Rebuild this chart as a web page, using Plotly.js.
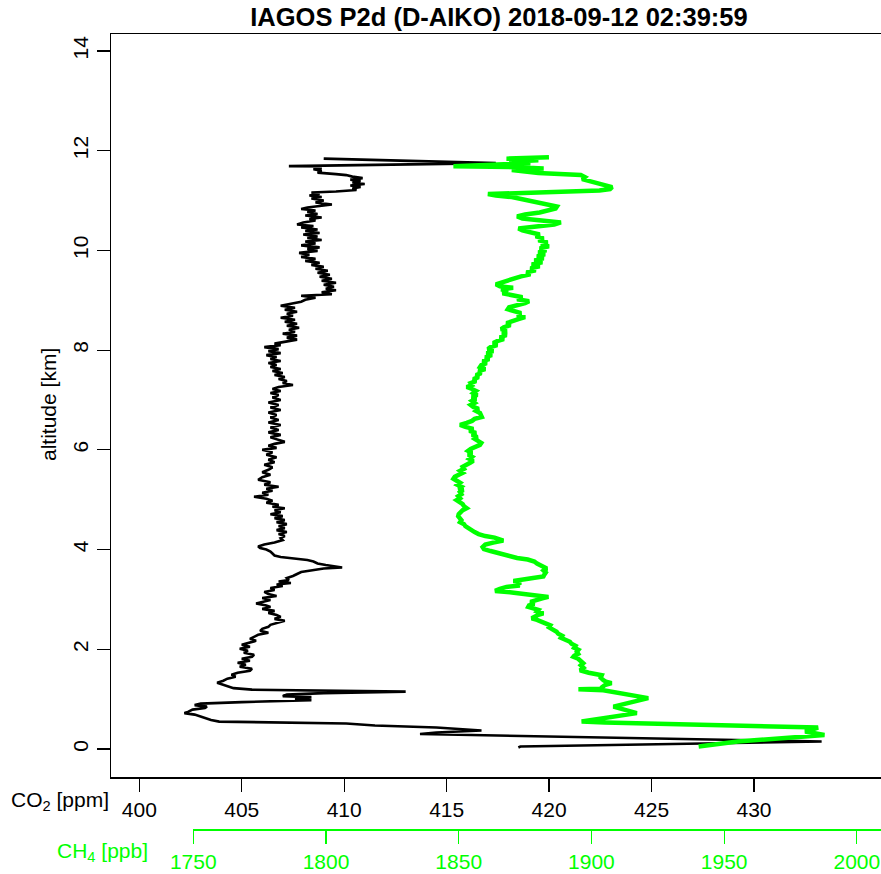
<!DOCTYPE html>
<html>
<head>
<meta charset="utf-8">
<script src="https://cdn.plot.ly/plotly-3.0.1.min.js"></script>
<style>html,body{margin:0;padding:0;background:#fff;overflow:hidden}#chart{width:881px;height:874px}</style>
</head>
<body>
<div id="chart"></div>
<script>
// ---- data ----
const titleText = "IAGOS P2d (D-AIKO) 2018-09-12 02:39:59";
const co2Ticks = [400, 405, 410, 415, 420, 425, 430];
const ch4Ticks = [1750, 1800, 1850, 1900, 1950, 2000];
const altTicks = [0, 2, 4, 6, 8, 10, 12, 14];

const co2Alt = [11.84,11.83,11.75,11.69,11.68,11.66,11.63,11.60,11.56,11.53,11.51,11.48,11.45,11.42,11.39,11.36,11.33,11.30,11.27,11.24,11.21,11.18,11.16,11.13,11.10,11.07,11.04,11.00,10.96,10.92,10.89,10.86,10.83,10.80,10.77,10.73,10.70,10.66,10.63,10.60,10.56,10.52,10.49,10.46,10.42,10.39,10.35,10.32,10.28,10.25,10.21,10.18,10.14,10.10,10.06,10.03,9.99,9.95,9.91,9.87,9.83,9.79,9.75,9.71,9.67,9.63,9.59,9.55,9.51,9.47,9.43,9.39,9.35,9.31,9.27,9.23,9.20,9.16,9.12,9.09,9.05,9.01,8.97,8.93,8.89,8.85,8.81,8.77,8.73,8.69,8.65,8.61,8.57,8.53,8.49,8.45,8.41,8.37,8.33,8.29,8.25,8.21,8.17,8.13,8.10,8.06,8.02,7.98,7.94,7.90,7.86,7.82,7.78,7.74,7.70,7.66,7.62,7.58,7.54,7.50,7.46,7.42,7.38,7.34,7.30,7.26,7.22,7.18,7.14,7.10,7.05,7.00,6.95,6.90,6.85,6.80,6.75,6.70,6.65,6.60,6.55,6.50,6.45,6.40,6.35,6.30,6.25,6.20,6.16,6.12,6.08,6.04,6.00,5.95,5.90,5.85,5.80,5.75,5.70,5.65,5.60,5.55,5.50,5.45,5.40,5.35,5.30,5.26,5.22,5.18,5.14,5.10,5.06,5.02,4.98,4.94,4.90,4.86,4.83,4.79,4.75,4.71,4.67,4.63,4.59,4.55,4.51,4.47,4.43,4.39,4.35,4.31,4.27,4.23,4.19,4.14,4.10,4.06,4.03,4.00,3.96,3.92,3.88,3.85,3.82,3.79,3.76,3.72,3.69,3.66,3.64,3.62,3.58,3.55,3.51,3.47,3.43,3.39,3.36,3.33,3.30,3.27,3.23,3.19,3.15,3.11,3.07,3.03,2.99,2.95,2.92,2.88,2.85,2.81,2.77,2.73,2.69,2.65,2.61,2.57,2.53,2.49,2.45,2.41,2.37,2.33,2.29,2.25,2.21,2.17,2.13,2.09,2.05,2.01,1.97,1.93,1.89,1.85,1.81,1.77,1.73,1.69,1.65,1.61,1.57,1.53,1.49,1.45,1.41,1.37,1.33,1.29,1.25,1.22,1.19,1.15,1.12,1.09,1.06,1.04,1.01,0.98,0.94,0.91,0.88,0.85,0.82,0.79,0.75,0.72,0.69,0.65,0.61,0.58,0.55,0.51,0.47,0.43,0.37,0.33,0.30,0.15,0.05,0.03];
const co2Ppm = [409.0,410.1,417.4,407.3,408.6,408.9,408.5,408.9,408.7,409.6,410.1,410.4,410.9,410.3,410.8,410.4,411.0,410.3,410.8,410.4,410.6,409.6,408.4,408.8,408.3,408.9,408.4,409.0,408.6,409.4,408.7,408.2,407.9,408.6,408.2,408.7,408.1,408.9,408.3,408.6,408.0,407.7,408.5,407.9,408.7,408.1,408.8,408.0,408.7,408.2,408.9,408.1,408.6,407.9,408.8,408.2,408.7,407.8,408.3,407.9,408.6,408.1,408.8,408.4,409.0,408.6,409.2,408.7,409.3,408.8,409.4,408.9,409.6,409.0,409.5,409.1,409.6,408.9,409.4,407.9,408.6,408.1,407.9,407.3,406.9,407.6,407.1,407.7,407.2,407.5,406.9,407.6,407.1,407.7,407.2,407.8,407.3,407.6,407.0,407.7,407.2,407.7,407.2,406.6,406.9,406.1,406.8,406.3,406.9,406.2,406.7,406.4,406.9,406.3,406.7,406.4,406.9,406.5,407.0,406.6,407.1,406.8,407.2,407.0,407.5,406.8,406.5,406.9,406.4,406.8,406.5,406.9,406.3,406.8,406.4,406.9,406.3,406.7,406.4,406.8,406.3,406.9,406.4,406.8,406.3,406.9,406.4,406.8,407.1,406.6,406.3,406.7,406.0,406.5,406.2,406.7,406.3,406.6,406.1,406.5,406.3,406.0,406.4,406.0,405.8,406.4,406.1,406.8,406.2,406.5,406.0,406.3,405.6,406.2,406.5,406.2,406.8,406.5,407.1,406.6,406.9,406.4,407.0,406.6,407.1,406.7,407.2,406.8,407.1,406.7,407.2,406.8,407.1,406.9,407.0,406.6,406.1,405.8,405.9,406.2,406.4,406.5,406.6,406.9,407.6,408.2,408.5,408.7,409.1,409.6,409.9,409.0,408.3,407.9,407.7,407.5,407.2,407.3,406.8,407.4,406.7,407.0,406.4,406.6,406.1,406.3,406.7,406.0,406.4,405.9,405.7,406.2,406.4,406.0,406.6,406.3,406.7,406.9,406.6,407.1,406.8,406.4,406.3,406.0,405.9,406.3,405.8,405.6,405.4,405.7,405.3,405.0,405.4,404.9,405.3,405.1,405.6,405.5,405.0,405.4,404.8,405.2,404.9,405.5,405.4,404.8,404.5,404.7,404.3,404.1,403.8,404.1,404.3,404.6,405.5,413.0,409.0,407.2,407.0,408.4,407.6,408.4,405.0,403.0,402.7,403.3,403.2,402.6,402.4,402.2,402.7,403.0,403.3,403.5,403.9,410.1,411.5,414.5,416.7,414.5,413.7,433.3,418.6,418.5];

const ch4Alt = [11.87,11.84,11.81,11.78,11.75,11.72,11.69,11.67,11.64,11.61,11.58,11.55,11.51,11.47,11.43,11.39,11.35,11.31,11.27,11.23,11.20,11.13,11.10,11.07,11.03,11.00,10.96,10.92,10.88,10.84,10.80,10.76,10.72,10.68,10.64,10.60,10.56,10.52,10.48,10.44,10.40,10.36,10.32,10.28,10.24,10.20,10.16,10.12,10.08,10.04,10.00,9.96,9.92,9.88,9.84,9.80,9.76,9.72,9.68,9.64,9.60,9.56,9.52,9.48,9.44,9.40,9.36,9.32,9.28,9.25,9.22,9.18,9.14,9.10,9.06,9.02,8.98,8.94,8.90,8.86,8.82,8.78,8.74,8.70,8.66,8.62,8.58,8.54,8.50,8.46,8.42,8.38,8.34,8.30,8.26,8.22,8.18,8.14,8.10,8.06,8.02,7.98,7.94,7.90,7.86,7.82,7.78,7.74,7.70,7.66,7.62,7.58,7.54,7.50,7.46,7.42,7.38,7.34,7.30,7.26,7.22,7.18,7.14,7.10,7.06,7.02,6.98,6.94,6.90,6.86,6.82,6.78,6.74,6.70,6.66,6.62,6.58,6.54,6.50,6.46,6.42,6.38,6.34,6.30,6.26,6.22,6.18,6.14,6.10,6.06,6.02,5.98,5.94,5.90,5.86,5.82,5.78,5.74,5.70,5.66,5.62,5.58,5.54,5.50,5.46,5.42,5.38,5.34,5.30,5.26,5.22,5.19,5.15,5.11,5.07,5.03,4.99,4.95,4.91,4.87,4.83,4.79,4.75,4.71,4.67,4.63,4.59,4.55,4.51,4.47,4.43,4.39,4.35,4.31,4.27,4.24,4.20,4.18,4.14,4.10,4.05,4.01,3.97,3.93,3.89,3.86,3.83,3.80,3.76,3.72,3.68,3.65,3.62,3.58,3.54,3.50,3.46,3.43,3.40,3.37,3.34,3.31,3.28,3.25,3.21,3.17,3.14,3.10,3.07,3.05,3.02,2.98,2.95,2.91,2.88,2.85,2.82,2.79,2.76,2.72,2.69,2.66,2.62,2.59,2.56,2.52,2.48,2.44,2.40,2.35,2.31,2.27,2.23,2.19,2.15,2.11,2.07,2.03,1.99,1.95,1.91,1.87,1.85,1.81,1.77,1.72,1.68,1.63,1.58,1.53,1.48,1.43,1.38,1.35,1.32,1.28,1.24,1.21,1.20,1.18,1.02,0.85,0.72,0.55,0.53,0.43,0.38,0.35,0.28,0.15,0.05];
const ch4Ppb = [1884.0,1868.0,1880.0,1869.0,1877.0,1866.0,1848.0,1872.0,1882.0,1870.0,1876.0,1880.0,1896.0,1897.5,1896.5,1899.5,1903.0,1906.5,1907.8,1907.0,1903.0,1861.0,1864.0,1870.0,1874.0,1876.0,1881.0,1884.0,1887.0,1886.5,1883.0,1880.5,1875.0,1872.0,1874.0,1882.0,1888.5,1886.0,1877.0,1872.5,1874.0,1878.0,1880.5,1879.0,1882.0,1880.0,1883.5,1881.0,1884.0,1880.5,1883.0,1880.0,1882.5,1879.5,1882.0,1878.5,1881.5,1877.5,1880.5,1877.0,1879.0,1875.5,1877.0,1873.5,1871.0,1868.0,1866.0,1864.0,1865.5,1870.5,1866.0,1868.5,1866.5,1871.0,1874.0,1872.0,1876.5,1875.0,1871.5,1869.0,1868.5,1871.0,1873.5,1872.0,1875.0,1872.5,1870.5,1868.0,1869.5,1867.0,1866.0,1868.0,1866.5,1868.0,1865.5,1867.0,1864.5,1863.0,1864.5,1862.0,1861.0,1863.0,1860.5,1862.5,1860.0,1861.5,1859.0,1860.5,1858.5,1858.0,1860.0,1857.5,1858.5,1856.5,1857.5,1855.5,1856.5,1854.5,1855.0,1853.0,1855.0,1856.5,1855.5,1857.0,1855.0,1856.5,1855.0,1856.0,1854.5,1855.5,1857.5,1856.5,1858.0,1858.5,1858.7,1856.0,1855.0,1853.0,1850.5,1852.5,1855.5,1854.0,1856.5,1855.0,1857.0,1856.0,1857.5,1858.5,1858.0,1856.0,1854.5,1853.5,1855.0,1853.6,1855.0,1854.0,1855.5,1854.3,1853.0,1851.5,1852.0,1850.5,1851.5,1849.5,1848.5,1848.0,1849.5,1850.5,1849.5,1851.0,1850.0,1851.7,1850.5,1851.0,1849.8,1850.5,1849.2,1850.5,1851.5,1852.0,1853.0,1851.5,1850.5,1850.0,1849.8,1850.5,1851.0,1850.5,1852.0,1852.5,1853.5,1854.5,1856.0,1857.5,1860.0,1863.5,1866.0,1866.8,1863.0,1860.0,1859.0,1859.5,1862.0,1865.0,1867.5,1868.5,1872.0,1876.0,1878.5,1879.5,1881.0,1882.5,1883.2,1882.0,1882.8,1882.3,1881.9,1878.0,1873.0,1870.6,1873.5,1871.5,1873.0,1868.0,1865.5,1863.7,1870.0,1878.0,1883.0,1883.8,1881.5,1878.5,1877.0,1878.5,1876.5,1876.2,1878.0,1880.0,1879.5,1881.9,1880.0,1878.5,1877.5,1879.5,1881.0,1883.2,1884.5,1884.0,1885.5,1886.9,1887.5,1889.0,1888.5,1890.5,1891.9,1892.5,1894.0,1893.5,1895.1,1894.5,1895.0,1893.5,1893.2,1895.0,1896.0,1896.9,1896.0,1897.0,1895.7,1899.0,1903.9,1903.5,1904.5,1905.5,1907.6,1905.0,1904.0,1903.5,1895.1,1904.5,1921.4,1908.3,1917.1,1896.3,1905.0,1985.4,1982.5,1980.5,1987.8,1955.1,1940.4];

// ---- chart ----
const FONT = '"Liberation Sans", Arial, Helvetica, sans-serif';
const GREEN = '#00ff00';

const traces = [
  {x: co2Ppm, y: co2Alt, type: 'scatter', mode: 'lines', xaxis: 'x', yaxis: 'y',
   line: {color: '#000000', width: 2.6}, hoverinfo: 'skip', showlegend: false},
  {x: ch4Ppb, y: ch4Alt, type: 'scatter', mode: 'lines', xaxis: 'x2', yaxis: 'y',
   line: {color: GREEN, width: 4.5}, hoverinfo: 'skip', showlegend: false}
];

// pixel geometry of the plot region
const L = 111, R = 881, T = 34, PB = 777, paperB = 829;
const paperH = paperB - T, paperW = R - L;
const px2x = p => (p - L) / paperW;
const px2y = p => (paperB - p) / paperH;

const layout = {
  width: 881, height: 874,
  margin: {l: L, r: 881 - R, t: T, b: 874 - paperB, pad: 0},
  paper_bgcolor: '#ffffff', plot_bgcolor: 'rgba(0,0,0,0)',
  font: {family: FONT, size: 21, color: '#000000'},
  showlegend: false,
  title: {text: '<b>' + titleText + '</b>', font: {family: FONT, size: 25.5, color: '#000'},
          xref: 'paper', x: px2x(499), xanchor: 'center', yref: 'container', y: 1 - 17/874, yanchor: 'middle'},
  xaxis: {
    domain: [0, 1], anchor: 'y', range: [398.619, 436.198],
    tickmode: 'array', tickvals: co2Ticks, ticktext: co2Ticks.map(String),
    ticks: 'outside', ticklen: 13, tickwidth: 1.2, tickcolor: '#000',
    showline: true, linecolor: '#000', linewidth: 1.5, mirror: true,
    showgrid: false, zeroline: false, tickfont: {size: 21, color: '#000'}
  },
  xaxis2: {
    domain: [px2x(193.3), 1], anchor: 'free', position: 0, side: 'bottom',
    range: [1750, 2009.1],
    tickmode: 'array', tickvals: ch4Ticks, ticktext: ch4Ticks.map(String),
    ticks: 'outside', ticklen: 13, tickwidth: 1.2, tickcolor: GREEN,
    showline: true, linecolor: GREEN, linewidth: 1.5,
    showgrid: false, zeroline: false, tickfont: {size: 21, color: GREEN}
  },
  yaxis: {
    domain: [px2y(PB), 1], anchor: 'x', range: [-0.5616, 14.340],
    tickmode: 'array', tickvals: altTicks, ticktext: altTicks.map(String),
    ticks: 'outside', ticklen: 13, tickwidth: 1.2, tickcolor: '#000',
    tickangle: -90,
    showline: true, linecolor: '#000', linewidth: 1.5, mirror: false,
    showgrid: false, zeroline: false, tickfont: {size: 21, color: '#000'}
  },
  annotations: [
    {text: 'altitude [km]', xref: 'paper', yref: 'paper', x: px2x(48), y: px2y(405),
     xanchor: 'center', yanchor: 'middle', textangle: -90, showarrow: false,
     font: {family: FONT, size: 21, color: '#000'}},
    {text: 'CO<sub>2</sub> [ppm]', xref: 'paper', yref: 'paper', x: px2x(111), y: px2y(801),
     xanchor: 'right', yanchor: 'middle', showarrow: false,
     font: {family: FONT, size: 21, color: '#000'}},
    {text: 'CH<sub>4</sub> [ppb]', xref: 'paper', yref: 'paper', x: px2x(150), y: px2y(852),
     xanchor: 'right', yanchor: 'middle', showarrow: false,
     font: {family: FONT, size: 21, color: GREEN}}
  ]
};

Plotly.newPlot('chart', traces, layout, {displayModeBar: false, staticPlot: true});
</script>
</body>
</html>
